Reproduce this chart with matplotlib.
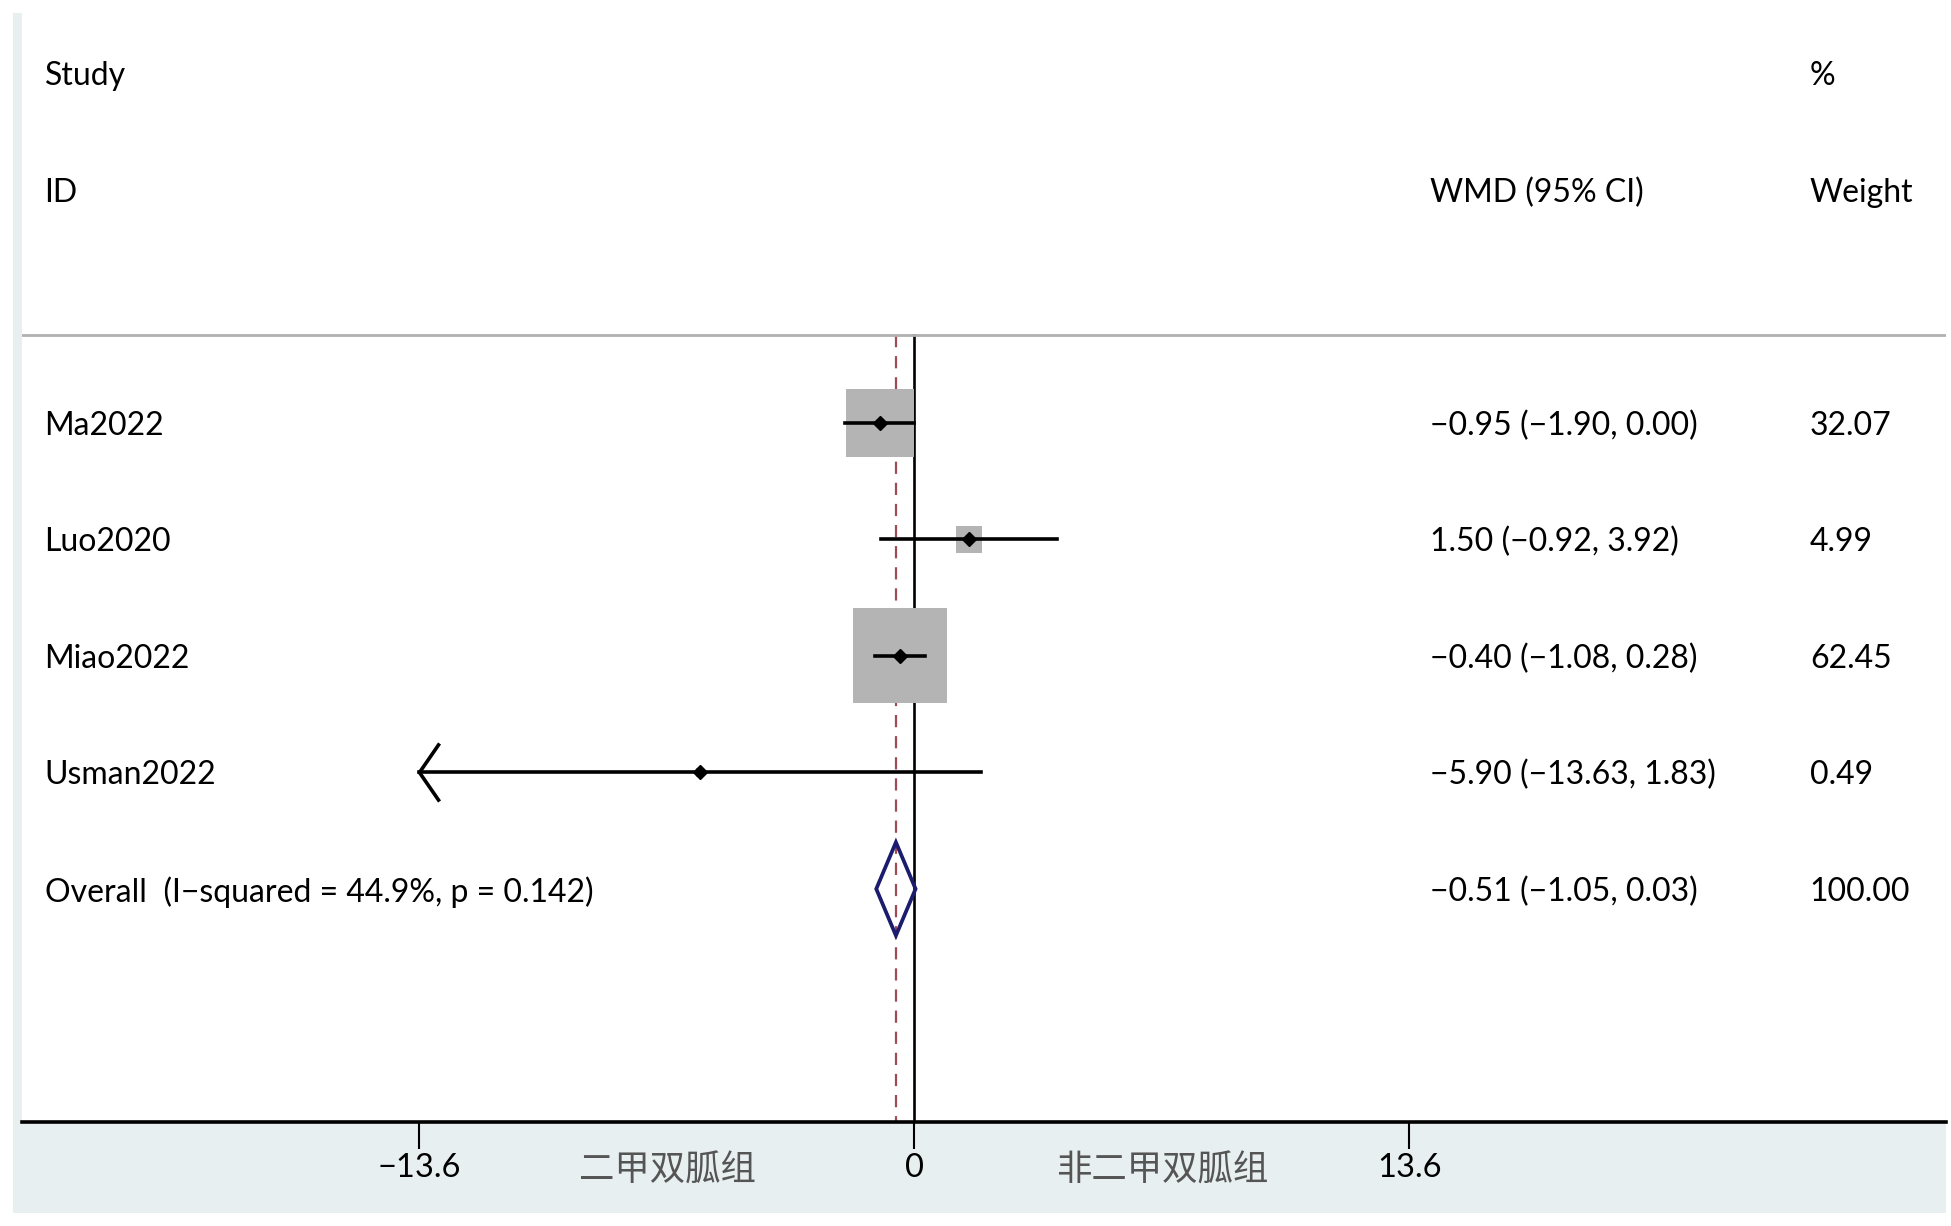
import matplotlib
matplotlib.use('Agg')
import matplotlib.pyplot as plt
from matplotlib.patches import Rectangle, Polygon
from matplotlib.path import Path
from matplotlib import rcParams
rcParams['font.family'] = ['Lato', 'DejaVu Sans']
rcParams['axes.unicode_minus'] = True

# data
studies = ['Ma2022', 'Luo2020', 'Miao2022', 'Usman2022']
wmd = [-0.95, 1.50, -0.40, -5.90]
ci_lo = [-1.90, -0.92, -1.08, -13.63]
ci_hi = [0.00, 3.92, 0.28, 1.83]
weights = [32.07, 4.99, 62.45, 0.49]
overall = [-0.51, -1.05, 0.03]
overall_label = 'Overall  (I\u2212squared = 44.9%, p = 0.142)'
overall_weight = 100.00
xticks = [-13.6, 0, 13.6]
group_left = '二甲双胍组'
group_right = '非二甲双胍组'

def fmt(v):
    return '{:.2f}'.format(v).replace('-', '\u2212')

W, H = 1951, 1226
fig = plt.figure(figsize=(W / 100, H / 100), dpi=100, facecolor='white')
# light stata-like background
fig.patches.append(Rectangle((13 / W, 1 - 1213 / H), (1946 - 13) / W, (1213 - 13) / H,
                             transform=fig.transFigure, facecolor='#e8eff1',
                             edgecolor='none', zorder=-10))
ax = fig.add_axes([22 / W, 1 - 1122 / H, (1946 - 22) / W, 1122 / H])
ax.set_facecolor('white')
ax.set_xlim(-24.52, 28.34)
ax.set_ylim(6, -3.627)
for s in ['top', 'right', 'left']:
    ax.spines[s].set_visible(False)
ax.spines['bottom'].set_linewidth(2.6)
ax.set_yticks([])
ax.set_xticks(xticks)
ax.set_xticklabels([('{:g}'.format(t)).replace('-', '\u2212') for t in xticks], fontsize=23.5)
ax.tick_params(axis='x', direction='out', length=19.5, width=1.5, pad=3)

fs = 23
col_left, col_wmd, col_w = -23.9, 14.15, 24.6

# header
ax.text(col_left, -3, 'Study', fontsize=fs, va='center_baseline')
ax.text(col_left, -2, 'ID', fontsize=fs, va='center_baseline')
ax.text(col_wmd, -2, 'WMD (95% CI)', fontsize=fs, va='center_baseline')
ax.text(col_w, -3, '%', fontsize=fs, va='center_baseline')
ax.text(col_w, -2, 'Weight', fontsize=fs, va='center_baseline')
ax.axhline(-0.75, color='#b0b0b0', linewidth=2)

# reference lines
ax.plot([0, 0], [-0.75, 6], color='black', linewidth=1.9, zorder=1)
ax.plot([overall[0], overall[0]], [-0.75, 6], color='#a04a55', linewidth=1.6,
        linestyle=(0, (5.5, 4.0)), zorder=1)

xmin = xticks[0]
rows = list(range(len(studies)))
ax.scatter(wmd, rows, s=[74.6 * w for w in weights], marker='s', color='#b4b4b4',
           linewidths=0, zorder=2)
arrow = Path([(0.69, 1), (0, 0), (0.69, -1)], [Path.MOVETO, Path.LINETO, Path.LINETO])
for i in rows:
    lo = max(ci_lo[i], xmin)
    ax.plot([lo, ci_hi[i]], [i, i], color='black', linewidth=2.6, zorder=3)
    if ci_lo[i] < xmin:
        ax.plot(lo, i, marker=arrow, markersize=41.8, markerfacecolor='none',
                markeredgecolor='black', markeredgewidth=2.6, zorder=3)
    ax.plot(wmd[i], i, marker='D', markersize=7, color='black', zorder=4)
    ax.text(col_left, i, studies[i], fontsize=fs, va='center_baseline')
    ax.text(col_wmd, i, '{} ({}, {})'.format(fmt(wmd[i]), fmt(ci_lo[i]), fmt(ci_hi[i])),
            fontsize=fs, va='center_baseline')
    ax.text(col_w, i, fmt(weights[i]), fontsize=fs, va='center_baseline')

# overall diamond
yo = len(studies)
ax.add_patch(Polygon([(overall[1], yo), (overall[0], yo - 0.4), (overall[2], yo),
                      (overall[0], yo + 0.4)], closed=True, fill=False,
                     edgecolor='#1c1c6e', linewidth=2.7, zorder=4))
ax.text(col_left, yo, overall_label, fontsize=fs, va='center_baseline')
ax.text(col_wmd, yo, '{} ({}, {})'.format(fmt(overall[0]), fmt(overall[1]), fmt(overall[2])),
        fontsize=fs, va='center_baseline')
ax.text(col_w, yo, fmt(overall_weight), fontsize=fs, va='center_baseline')

# group labels under the axis
ax.text((xticks[0] + xticks[1]) / 2, 6.42, group_left, fontsize=25.5, color='#555555',
        ha='center', va='center', family=['Noto Sans CJK SC'], clip_on=False)
ax.text((xticks[1] + xticks[2]) / 2, 6.42, group_right, fontsize=25.5, color='#555555',
        ha='center', va='center', family=['Noto Sans CJK SC'], clip_on=False)

fig.savefig('out.png', dpi=100, facecolor='white')
